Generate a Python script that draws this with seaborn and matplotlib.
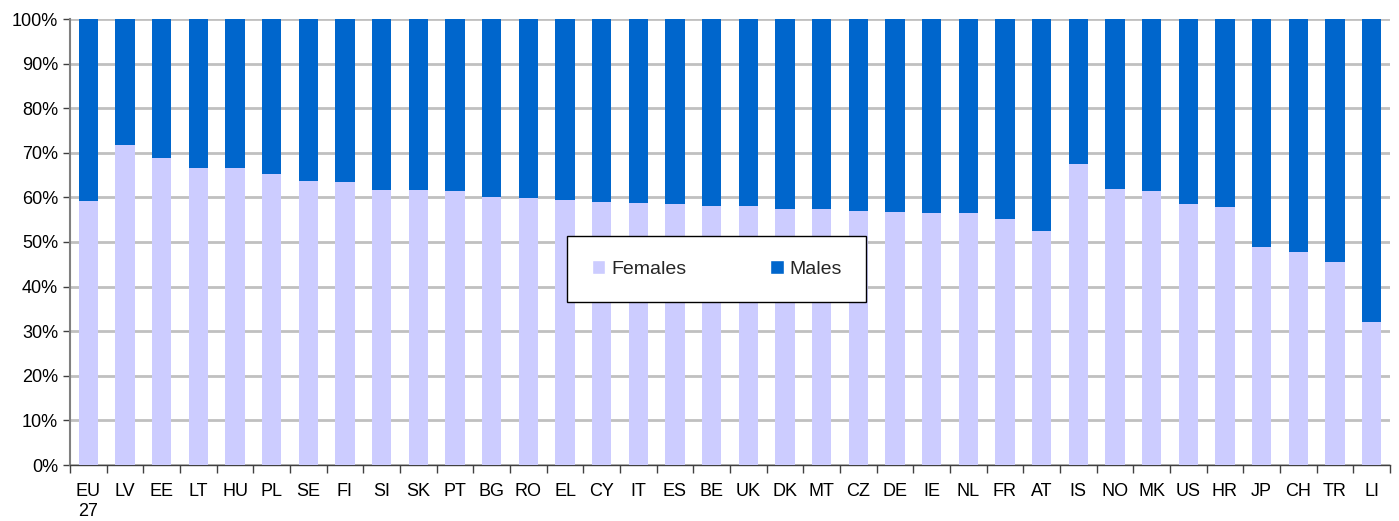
import seaborn as sns
import matplotlib.pyplot as plt
import pandas as pd
from matplotlib.ticker import FixedLocator, PercentFormatter
from matplotlib.patches import Patch

# Share of females / males by country (%)
countries = ["EU\n27", "LV", "EE", "LT", "HU", "PL", "SE", "FI", "SI", "SK", "PT", "BG",
             "RO", "EL", "CY", "IT", "ES", "BE", "UK", "DK", "MT", "CZ", "DE", "IE",
             "NL", "FR", "AT", "IS", "NO", "MK", "US", "HR", "JP", "CH", "TR", "LI"]
females = [59.2, 71.7, 68.8, 66.6, 66.6, 65.2, 63.7, 63.5, 61.7, 61.7, 61.4, 60.1,
           59.9, 59.4, 59.0, 58.7, 58.5, 58.1, 58.1, 57.4, 57.4, 57.0, 56.8, 56.5,
           56.5, 55.2, 52.5, 67.5, 61.9, 61.4, 58.5, 57.8, 48.9, 47.8, 45.5, 32.1]
males = [100 - f for f in females]

female_color = "#CCCCFF"
male_color = "#0066CC"

df = pd.DataFrame({"country": countries, "Females": females, "Males": males})
df["total"] = df["Females"] + df["Males"]

sns.set_theme(style="white")
plt.rcParams["font.family"] = ["Liberation Sans", "DejaVu Sans"]

fig = plt.figure(figsize=(13.99, 5.21), dpi=100)
ax = fig.add_axes([70 / 1399, 1 - 465 / 521, 1320 / 1399, 446 / 521])

# stacked bars: full bar in males colour, females drawn on top
sns.barplot(data=df, x="country", y="total", color=male_color, width=0.52,
            saturation=1, linewidth=0, ax=ax, zorder=3)
sns.barplot(data=df, x="country", y="Females", color=female_color, width=0.52,
            saturation=1, linewidth=0, ax=ax, zorder=3)

ax.set_xlim(-0.5, len(countries) - 0.5)
ax.set_ylim(0, 100)
ax.set_xlabel("")
ax.set_ylabel("")

ax.yaxis.set_major_locator(FixedLocator(range(0, 101, 10)))
ax.yaxis.set_major_formatter(PercentFormatter(decimals=0))
ax.yaxis.grid(True, color="#c0c0c0", linewidth=2, zorder=0)
ax.set_axisbelow(True)

ax.xaxis.set_minor_locator(FixedLocator([i - 0.5 for i in range(len(countries) + 1)]))
ax.tick_params(axis="x", which="major", length=0, pad=13, labelsize=13, colors="black")
ax.tick_params(axis="x", which="minor", length=6, width=1, color="#404040", bottom=True)
ax.tick_params(axis="y", which="major", length=5, width=1, color="#404040", left=True,
               labelsize=13, colors="black")
for lbl in ax.get_xticklabels():
    lbl.set_linespacing(1.2)

for s in ["top", "right"]:
    ax.spines[s].set_visible(False)
ax.spines["left"].set_color("#808080")
ax.spines["left"].set_linewidth(1.5)
ax.spines["bottom"].set_color("#404040")
ax.spines["bottom"].set_linewidth(1)

handles = [Patch(facecolor=female_color, label="Females"),
           Patch(facecolor=male_color, label="Males")]
leg = ax.legend(handles=handles, loc="center", bbox_to_anchor=(0.49, 0.44), ncol=2,
                fontsize=14, frameon=True, fancybox=False, framealpha=1,
                edgecolor="black", handlelength=0.7, handleheight=0.7,
                handletextpad=0.3, columnspacing=4.3, borderpad=1.25)
leg.get_frame().set_linewidth(1)
leg.set_zorder(5)

fig.savefig("out.png", dpi=100)
